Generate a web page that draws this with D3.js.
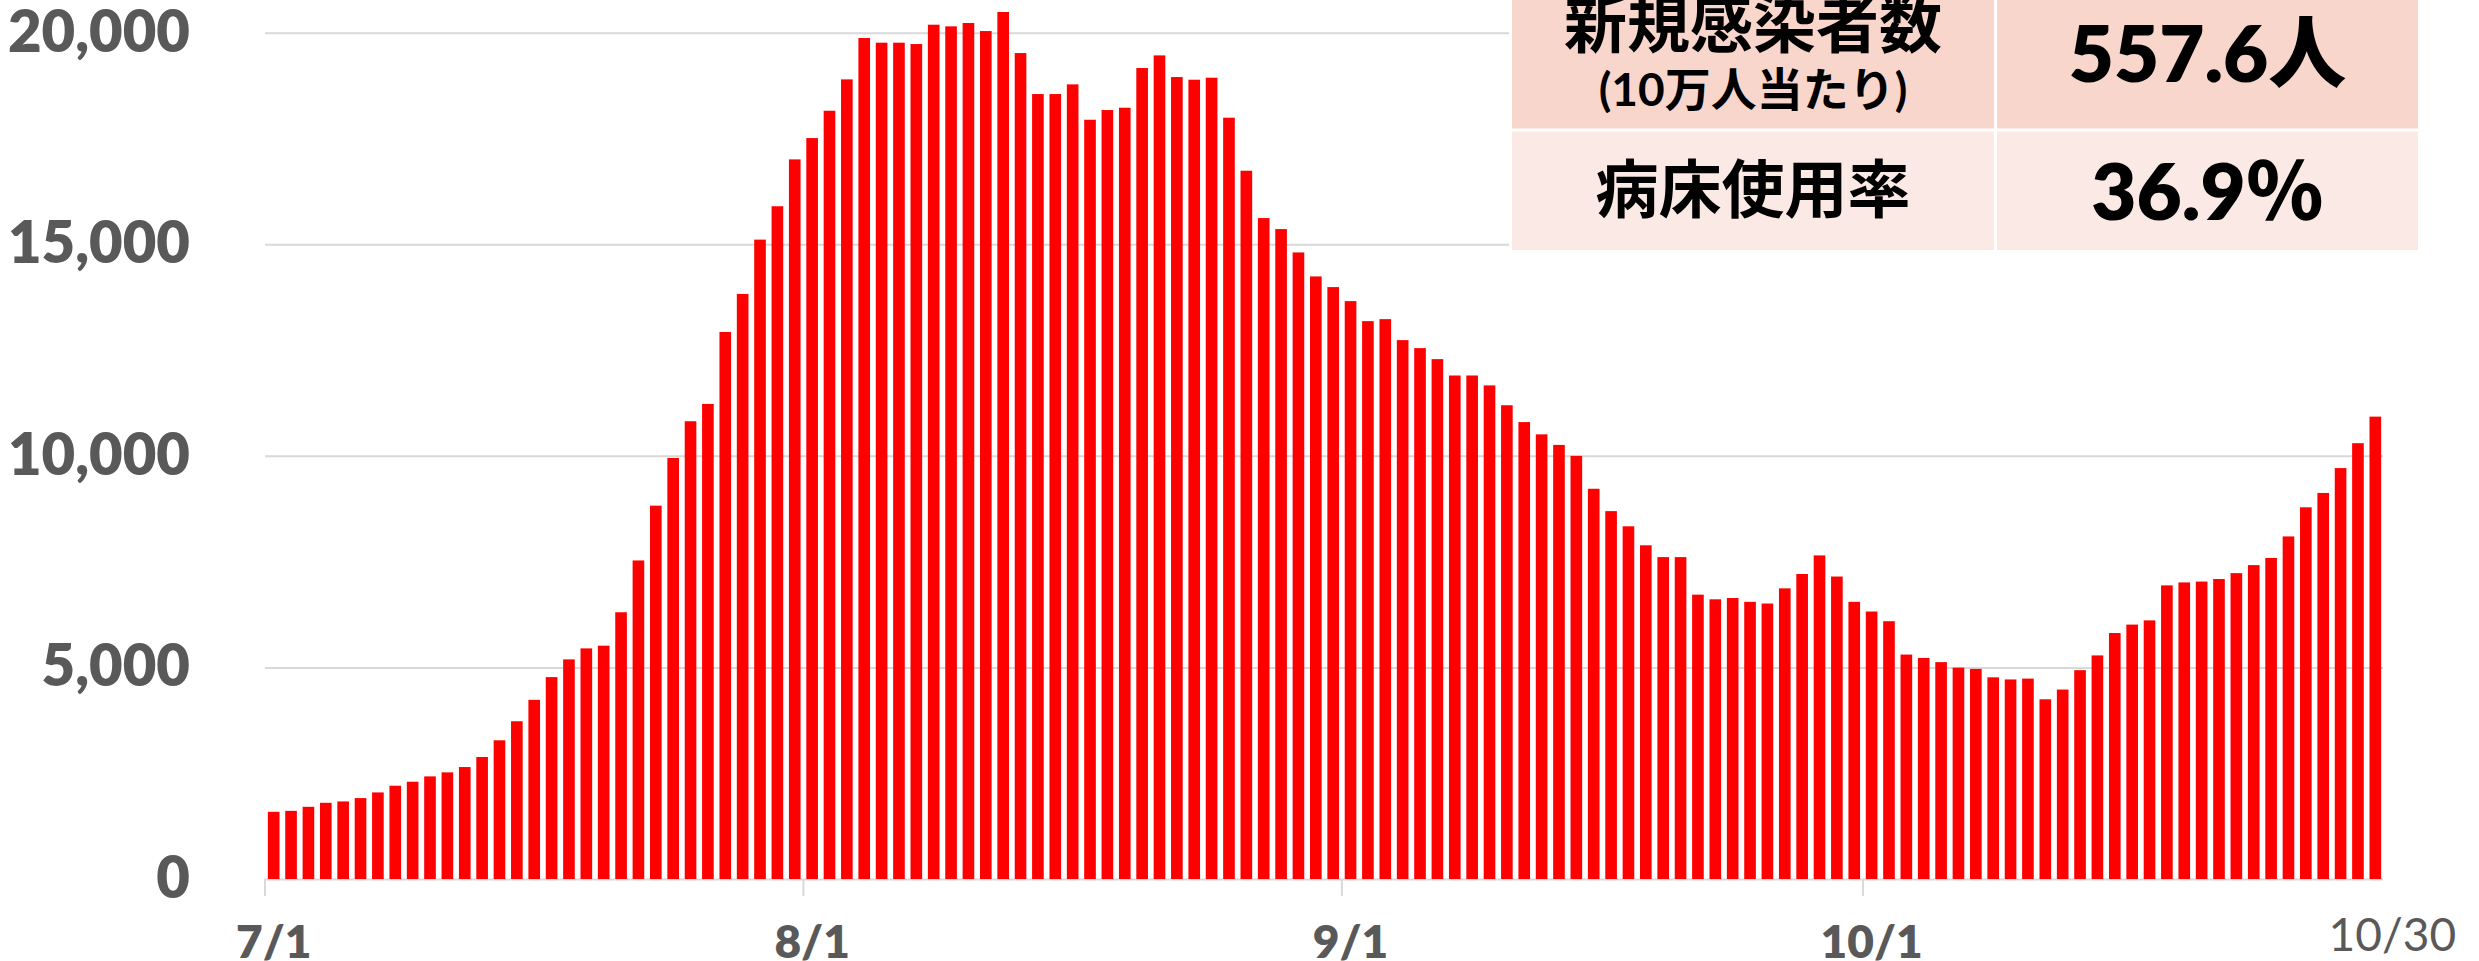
<!DOCTYPE html>
<meta charset="utf-8">
<head>
    <title></title>
    <script src="https://cdn.jsdelivr.net/npm/d3@7/dist/d3.min.js"></script>
</head>

<style>
    body{
      margin:0;
      background:#fff;
    }
    text{
      font-family: Lato, "Noto Sans CJK JP", sans-serif;
    }
</style>
<svg width="2479" height="961"></svg>

<script>
    // daily new cases, one value per day from 7/1 to 10/30
    var firstDay = new Date(2022, 6, 1),
        lastDay = new Date(2022, 9, 30);

    var julyCases = [1588, 1611, 1706, 1801, 1833, 1912, 2046, 2204, 2299, 2425,
                     2520, 2646, 2883, 3278, 3728, 4234, 4771, 5190, 5450, 5514,
                     6304, 7528, 8823, 9950, 10818, 11227, 12928, 13826, 15110, 15899, 17006],
        augCases = [17510, 18156, 18897, 19874, 19764, 19764, 19732, 20189, 20150, 20229,
                    20039, 20489, 19519, 18550, 18550, 18779, 17943, 18172, 18227, 19165,
                    19464, 18952, 18889, 18936, 17991, 16738, 15619, 15359, 14807, 14240, 13988],
        sepCases = [13657, 13184, 13231, 12735, 12546, 12286, 11899, 11899, 11665, 11196,
                    10798, 10508, 10259, 10000, 9222, 8694, 8335, 7886, 7607, 7607,
                    6720, 6610, 6640, 6550, 6510, 6869, 7208, 7647, 7148, 6550],
        octCases = [6321, 6092, 5304, 5224, 5125, 4995, 4965, 4766, 4716, 4736,
                    4247, 4477, 4935, 5284, 5813, 6012, 6112, 6939, 7009, 7029,
                    7089, 7228, 7418, 7587, 8096, 8784, 9123, 9711, 10299, 10927];

    var yTicks = [0, 5000, 10000, 15000, 20000],
        xTicks = ['7/1', '8/1', '9/1', '10/1'],
        endLabel = '10/30';

    var tableLabels = ['新規感染者数', '病床使用率'],
        tableSubLabel = '(10万人当たり)',
        tableValues = ['557.6人', '36.9％'];

    var left = 265,
        right = 2384,
        grey = '#595959',
        gridColor = '#d9d9d9';

    var svg = d3.select('svg');

    var dayKey = function(d){ return (d.getMonth()+1) + '/' + d.getDate(); };
    var days = d3.timeDay.range(firstDay, d3.timeDay.offset(lastDay, 1)),
        cases = julyCases.concat(augCases, sepCases, octCases);

    var data = days.map(function(d,i){
        return {key: dayKey(d), value: cases[i]};
    });

    var x = d3.scaleBand()
        .domain(data.map(function(d){ return d.key; }))
        .range([left, right])
        .paddingInner(0.33)
        .paddingOuter(0.165);

    var y = d3.scaleLinear().domain([0, 20000]).range([879, 32.7]);

    // gridlines + y labels
    var gy = svg.append('g')
        .attr('transform', 'translate(' + left + ',0)')
        .call(d3.axisLeft(y).tickValues(yTicks).tickFormat(d3.format(','))
            .tickSize(-(right - left - 1)).tickPadding(75));
    gy.select('.domain').remove();
    gy.selectAll('.tick line').style('stroke', gridColor).style('stroke-width', 2);
    gy.selectAll('.tick text')
        .style('font-size', '58px')
        .style('font-weight', 800)
        .style('fill', grey);

    // bars
    svg.append('g').selectAll('rect').data(data).enter().append('rect')
        .attr('x', function(d){ return x(d.key); })
        .attr('y', function(d){ return y(d.value); })
        .attr('width', x.bandwidth())
        .attr('height', function(d){ return y(0) - y(d.value); })
        .style('fill', '#ff0000');

    // x axis, ticks sit between days
    var gx = svg.append('g')
        .attr('transform', 'translate(0,' + y(0) + ')')
        .call(d3.axisBottom(x).tickValues(xTicks).tickSize(17).tickPadding(29));
    gx.select('.domain').remove();
    gx.selectAll('.tick line')
        .attr('transform', 'translate(' + (-x.step()/2) + ',0)')
        .style('stroke', gridColor)
        .style('stroke-width', 2);
    gx.selectAll('.tick text')
        .style('font-size', '46px')
        .style('font-weight', 800)
        .style('fill', grey);

    var lastKey = data[data.length-1].key;
    svg.append('text')
        .attr('x', x(lastKey) + x.bandwidth()/2 + 17)
        .attr('y', 951)
        .attr('text-anchor', 'middle')
        .style('font-size', '46px')
        .style('fill', grey)
        .text(endLabel);

    // summary table
    var t = svg.append('g');
    t.append('rect').attr('x', 1509).attr('y', -10).attr('width', 912).attr('height', 263).style('fill', '#fff');

    var rows = [{y: -20, h: 148.5, fill: '#f8d6cb'}, {y: 131.5, h: 118.5, fill: '#fbe9e5'}],
        cols = [{x: 1512, w: 482}, {x: 1997, w: 421}];

    rows.forEach(function(r){
        cols.forEach(function(c){
            t.append('rect').attr('x', c.x).attr('y', r.y).attr('width', c.w).attr('height', r.h)
                .style('fill', r.fill);
        });
    });

    var c1 = cols[0].x + cols[0].w/2,
        c2 = cols[1].x + cols[1].w/2;

    var cells = [
        {x: c1, y: 47, size: 63, weight: 'bold', text: tableLabels[0]},
        {x: c1, y: 106, size: 46, weight: 'bold', text: tableSubLabel},
        {x: c1, y: 212, size: 63, weight: 'bold', text: tableLabels[1]},
        {x: c2, y: 82, size: 78, weight: 800, text: tableValues[0]},
        {x: c2, y: 220, size: 78, weight: 800, text: tableValues[1]}
    ];

    t.selectAll('text.cell').data(cells).enter().append('text')
        .attr('class', 'cell')
        .attr('x', function(d){ return d.x; })
        .attr('y', function(d){ return d.y; })
        .attr('text-anchor', 'middle')
        .style('font-size', function(d){ return d.size + 'px'; })
        .style('font-weight', function(d){ return d.weight; })
        .style('fill', '#000')
        .text(function(d){ return d.text; });
</script>
